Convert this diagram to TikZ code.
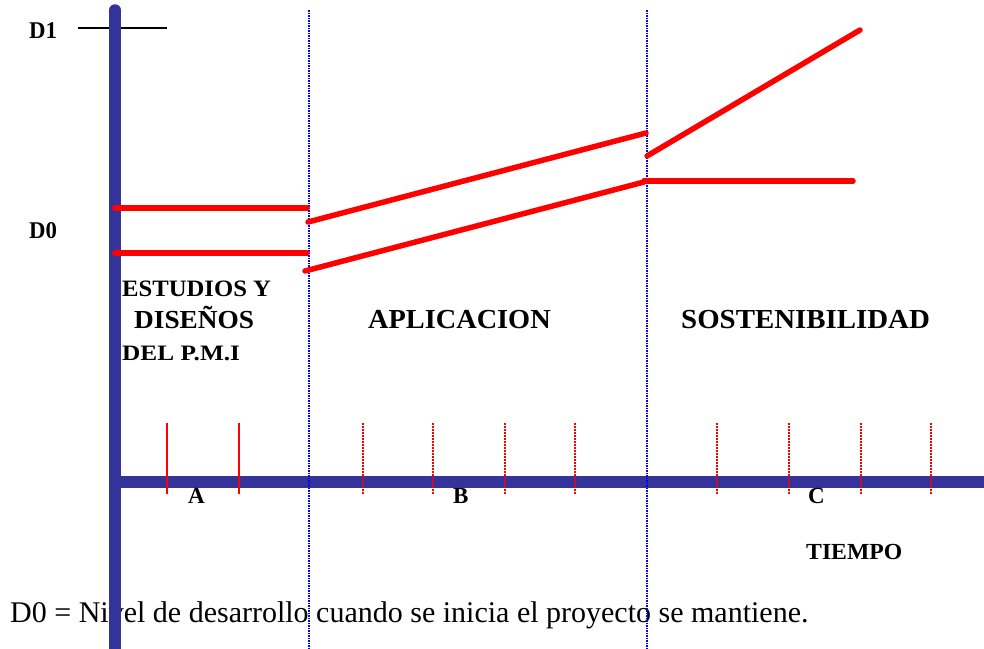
\documentclass[tikz,border=0pt]{standalone}
\usepackage{graphicx}
\usepackage{fontspec}
\setmainfont{Liberation Serif}
\definecolor{axisblue}{HTML}{333399}
\begin{document}
\begin{tikzpicture}[x=1pt,y=-1pt,
  axisline/.style={line width=11.5pt, color=axisblue},
  redline/.style={line width=5.5pt, red, line cap=round},
  sepline/.style={blue, line width=1.3pt, dash pattern=on 1.5pt off 1pt},
  solidtick/.style={red, line width=1.8pt},
  dottick/.style={red, line width=1.8pt, dash pattern=on 2pt off 1pt},
  lbl/.style={inner sep=0pt, anchor=base west, font=\bfseries}]
\useasboundingbox (0,0) rectangle (984,648);
\clip (0,0) rectangle (984,648);

% bottom caption (under the axes)
\node[inner sep=0pt, anchor=base west, font=\fontsize{30}{30}\selectfont] (note) at (10,622)
  {D0 = Nivel de desarrollo cuando se inicia el proyecto se mantiene.};

% D1 marker line
\coordinate (d1a) at (78,28);
\coordinate (d1b) at (167,28);
\draw[black, line width=1.5pt] (d1a) -- (d1b);

% axes
\coordinate (vtop) at (115,10);
\coordinate (vbot) at (115,660);
\coordinate (hleft) at (115,482);
\coordinate (hright) at (990,482);
\draw[axisline, line cap=round] (vtop) -- (vbot);
\draw[axisline] (hleft) -- (hright);

% phase separators
\coordinate (s1t) at (309,10);
\coordinate (s1b) at (309,660);
\coordinate (s2t) at (647,10);
\coordinate (s2b) at (647,660);
\draw[sepline] (s1t) -- (s1b);
\draw[sepline] (s2t) -- (s2b);

% ticks
\foreach \x in {167,239} \draw[solidtick] (\x,423) -- (\x,494);
\foreach \x in {363,433,505,575,717,789,861,931} \draw[dottick] (\x,423) -- (\x,494);

% red level lines
\coordinate (a1) at (115,208); \coordinate (a2) at (307,208);
\coordinate (b1) at (115,253); \coordinate (b2) at (307,253);
\coordinate (c1) at (308,222); \coordinate (c2) at (646,133);
\coordinate (e1) at (305,271); \coordinate (e2) at (644,182);
\coordinate (f1) at (644,181); \coordinate (f2) at (853,181);
\coordinate (g1) at (647,156); \coordinate (g2) at (860,30);
\draw[redline] (a1) -- (a2);
\draw[redline] (b1) -- (b2);
\draw[redline] (c1) -- (c2);
\draw[redline] (e1) -- (e2);
\draw[redline] (f1) -- (f2);
\draw[redline] (g1) -- (g2);

% labels
\node[lbl, font=\bfseries\fontsize{24}{24}\selectfont] (lD1) at (29,38) {\scalebox{0.95}[1]{D1}};
\node[lbl, font=\bfseries\fontsize{24}{24}\selectfont] (lD0) at (29,238) {\scalebox{0.95}[1]{D0}};

\node[lbl, font=\bfseries\fontsize{23.5}{23.5}\selectfont] (est) at (122,296) {\scalebox{1.05}[1]{ESTUDIOS Y}};
\node[lbl, font=\bfseries\fontsize{26}{26}\selectfont] (dis) at (134,328) {\scalebox{1.05}[1]{DISEÑOS}};
\node[lbl, font=\bfseries\fontsize{22}{22}\selectfont] (pmi) at (122,360) {\scalebox{1.15}[1]{DEL P.M.I}};

\node[lbl, font=\bfseries\fontsize{27.5}{27.5}\selectfont] (apl) at (368,328) {\scalebox{1.03}[1]{APLICACION}};
\node[lbl, font=\bfseries\fontsize{27.5}{27.5}\selectfont] (sos) at (681,328) {\scalebox{1.05}[1]{SOSTENIBILIDAD}};

\node[lbl, font=\bfseries\fontsize{23}{23}\selectfont] (lA) at (188,503) {A};
\node[lbl, font=\bfseries\fontsize{23}{23}\selectfont] (lB) at (453,503) {B};
\node[lbl, font=\bfseries\fontsize{23}{23}\selectfont] (lC) at (808,503) {C};

\node[lbl, font=\bfseries\fontsize{23}{23}\selectfont] (tiempo) at (806,559) {\scalebox{1.03}[1]{TIEMPO}};
\end{tikzpicture}
\end{document}
